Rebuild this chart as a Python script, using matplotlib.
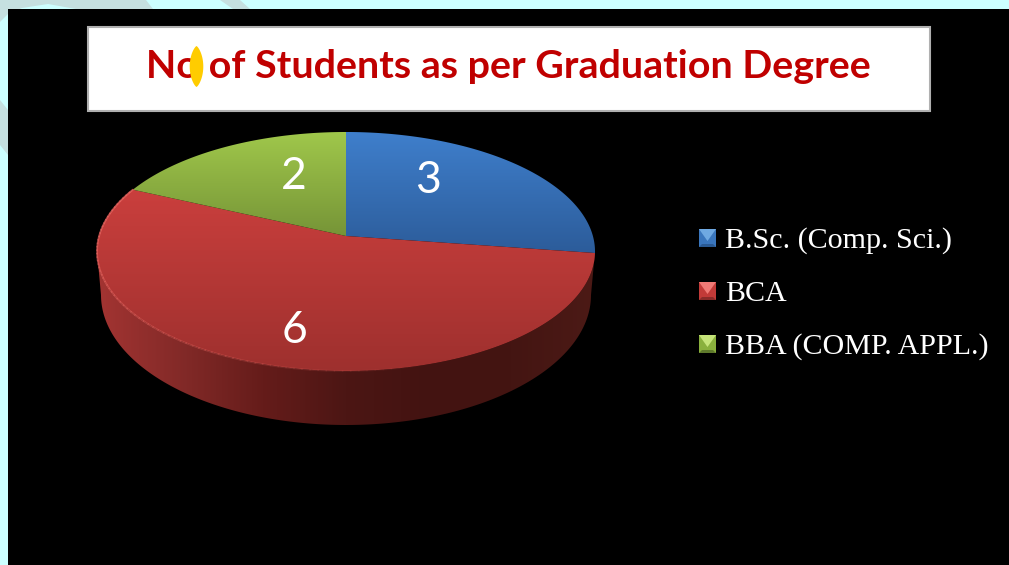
import numpy as np
import matplotlib
matplotlib.use('Agg')
import matplotlib.pyplot as plt
from matplotlib.patches import Polygon, Rectangle
from matplotlib.colors import LinearSegmentedColormap

title = 'No of Students as per Graduation Degree'
degrees = ['B.Sc. (Comp. Sci.)', 'BCA', 'BBA (COMP. APPL.)']
students = [3, 6, 2]

top_colors = [('#3f7fcc', '#2c5c9a'), ('#ca3f3d', '#9e302e'), ('#a0c84b', '#769437')]

# pie geometry in pixels, the tilted disc is a projective map of a circle
CX, CY = 346, 236
A, B, K = 117.5, 246.9, 0.1297


def project(angles):
    u, v = np.cos(angles), np.sin(angles)
    d = 1 + K * v
    return CX + B * u / d, CY - A * v / d


def gradient(ax, patch, colors, box, horizontal=False):
    cmap = LinearSegmentedColormap.from_list('g', colors)
    g = np.linspace(0, 1, 256)
    g = g.reshape(1, -1) if horizontal else g.reshape(-1, 1)
    im = ax.imshow(g, cmap=cmap, extent=box, aspect='auto', zorder=patch.get_zorder(),
                   origin='upper', interpolation='bilinear')
    ax.add_patch(patch)
    patch.set_visible(False)
    im.set_clip_path(patch)


fig = plt.figure(figsize=(10.09, 5.65), dpi=100, facecolor='#ccffff')
ax = fig.add_axes([0, 0, 1, 1])

# pale swooshes of the slide background
swooshes = [[(0, 0), (146, 0), (153, 9), (76, 9), (48, 4), (22, 8), (8, 14), (0, 22)],
            [(220, 0), (240, 0), (250, 9), (233, 9)],
            [(0, 100), (8, 110), (8, 155), (0, 145)]]
for pts in swooshes:
    ax.add_patch(Polygon(pts, fc='#c5e0e0', ec='none', zorder=1))

ax.add_patch(Rectangle((8, 9), 1009, 565, fc='black', ec='none', zorder=2))

# side wall, front part of the rim down to the lower ellipse
t = np.radians(np.linspace(-7.5, -172.5, 300))
tx, ty = project(t)
b = np.radians(np.linspace(180, 360, 300))
bx, by = 346 + 245 * np.cos(b), 295 - 130 * np.sin(b)
wall = np.column_stack([np.r_[tx, bx], np.r_[ty, by]])
side_stops = ['#a33432', '#832a28', '#651c1a', '#4c1614', '#431311', '#441512', '#4c1a16']
gradient(ax, Polygon(wall, zorder=3), side_stops, (97, 595, 430, 230), horizontal=True)

# top face, wedges come from the student counts
angles = [np.pi / 2]
for n in students:
    angles.append(angles[-1] - 2 * np.pi * n / sum(students))
for i in range(len(students)):
    th = np.linspace(angles[i], angles[i + 1], 200)
    x, y = project(th)
    pts = np.column_stack([np.r_[CX, x], np.r_[CY, y]])
    box = (90, 600, pts[:, 1].max(), pts[:, 1].min())
    gradient(ax, Polygon(pts, zorder=4), top_colors[i], box)

# soft light rim on the front edge of the red slice, fades out to the right
th = np.linspace(angles[2], angles[1], 120)
x, y = project(th)
for j in range(len(th) - 1):
    fade = max(0.0, 1 - j / 80)
    ax.plot(x[j:j + 2], y[j:j + 2], color='#e8645f', lw=1.3, alpha=0.8 * fade, zorder=5,
            solid_capstyle='round')

label_xy = [(428, 177), (294, 327), (294, 173)]
for n, (lx, ly) in zip(students, label_xy):
    ax.text(lx, ly + 16, str(n), color='white', fontsize=32, family='Lato',
            ha='center', va='baseline', zorder=6)

# title box
ax.add_patch(Rectangle((88, 27), 842, 84, fc='white', ec='#b0b0b0', lw=1.5, zorder=6))
ax.text(508.5, 77.5, title, color='#c00000', fontsize=28.4, family='Lato', fontweight='bold',
        ha='center', va='baseline', zorder=7)

# yellow lens over the title
s = np.linspace(-1, 1, 60)
half = 6.8 * (1 - s ** 2) ** 0.75
lens = np.column_stack([np.r_[196.5 - half, (196.5 + half)[::-1]], np.r_[66.5 + 20.5 * s, (66.5 + 20.5 * s)[::-1]]])
ax.add_patch(Polygon(lens, fc='#ffcc00', ec='none', zorder=8))

# legend with bevelled keys
key_colors = [('#3a76bd', '#6fa9e2', '#2a5a94'), ('#c23a38', '#f07a76', '#8a2b29'), ('#8ab03d', '#c6e47a', '#5f7a2c')]
legend_y = [238, 291, 344]
for name, ky, (mid, light, dark) in zip(degrees, legend_y, key_colors):
    x0, x1, y0, y1 = 699, 716, ky - 9, ky + 9
    ax.add_patch(Rectangle((x0, y0), 17, 18, fc=mid, ec='none', zorder=6))
    ax.add_patch(Polygon([(x0, y0), (x1, y0), ((x0 + x1) / 2, y0 + 12)], fc=light, ec='none', zorder=7))
    ax.add_patch(Polygon([(x0, y1), (x1, y1), (x1 - 3, y1 - 3), (x0 + 3, y1 - 3)], fc=dark, ec='none', zorder=7))
    ax.text(725, ky + 10, name, color='white', fontsize=21.6, family='Liberation Serif',
            ha='left', va='baseline', zorder=6)

ax.set_xlim(0, 1009)
ax.set_ylim(565, 0)
ax.axis('off')
fig.savefig('out.png', dpi=100, facecolor=fig.get_facecolor())
